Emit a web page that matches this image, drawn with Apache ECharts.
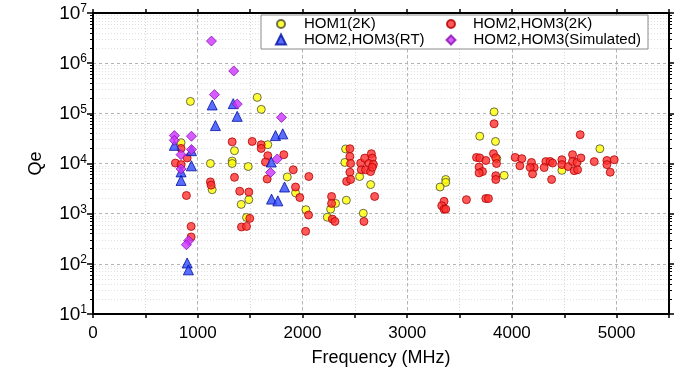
<!DOCTYPE html>
<html>
<head>
<meta charset="utf-8">
<script src="https://cdn.jsdelivr.net/npm/echarts@6/dist/echarts.min.js"></script>
<style>
  html, body { margin: 0; padding: 0; background: #fff; }
  #chart { width: 679px; height: 369px; }
</style>
</head>
<body>
<div id="chart"></div>
<script>
// Measured external Q (Qe) of HOM1 / HOM2,HOM3 modes versus mode frequency in MHz.
const hom1_2K = [
  [930,1.73e5],[1568,2.08e5],[1607,1.2e5],[841,2.6e4],[1669,2.37e4],[1351,1.8e4],
  [1121,1.0e4],[1329,1.12e4],[1329,1.0e4],[1482,8.7e3],[1855,5.4e3],[1138,3.0e3],
  [1934,2.6e3],[1488,1.9e3],[1415,1.53e3],[1466,840],[2033,1.2e3],[2237,850],
  [2269,1.23e3],[2316,1.6e3],[2412,1.95e4],[2405,1.05e4],[2546,5.5e3],[2651,3.8e3],
  [2419,1.85e3],[2581,1.02e3],[3830,1.07e5],[3693,3.5e4],[3843,2.75e4],[3856,1.25e4],
  [3926,5.8e3],[3368,4.8e3],[3368,4.2e3],[3314,3.4e3],[4840,1.97e4],[4477,7.3e3]
];
const hom23_2K = [
  [841,2.0e4],[899,1.29e4],[787,1.02e4],[841,9.5e3],[892,2.3e3],[937,557],[937,343],
  [1329,2.7e4],[1520,2.75e4],[1606,2.37e4],[1606,2.0e4],[1669,1.43e4],[1822,1.5e4],
  [1647,1.07e4],[1912,7.5e3],[1351,5.3e3],[1663,4.9e3],[1121,4.3e3],[1128,3.7e3],
  [1934,3.4e3],[1975,2.1e3],[1401,2.8e3],[1488,2.7e3],[1497,805],[1418,543],[1466,557],
  [2058,940],[2030,444],[2061,5.5e3],
  [2278,2.2e3],[2278,1.6e3],[2285,780],[2310,700],[2453,1.97e4],[2453,1.38e4],
  [2460,1.0e4],[2453,6.7e3],[2422,4.4e3],[2460,4.8e3],[2556,1.02e4],[2594,1.28e4],
  [2658,1.57e4],[2667,1.28e4],[2635,1.0e4],[2677,9.6e3],[2562,7.5e3],[2603,7.5e3],
  [2651,6.9e3],[2667,8.4e3],[2689,2.2e3],[2587,700],
  [3352,1.76e3],[3330,1.44e3],[3352,1.23e3],[3368,1.23e3],[3566,1.9e3],[3751,2.0e3],
  [3776,2.0e3],[3830,6.2e4],[3824,1.57e4],[3845,1.3e4],[3662,1.32e4],[3693,1.29e4],
  [3751,1.15e4],[3853,1.0e4],[3687,8.5e3],[3719,6.9e3],[3687,6.5e3],[3846,5.7e3],
  [3846,4.8e3],
  [4031,1.32e4],[4095,1.25e4],[4076,9e3],[4187,1.05e4],[4213,8.3e3],[4175,8.3e3],
  [4197,6.2e3],[4652,3.75e4],[4324,1.09e4],[4365,1.1e4],[4388,1.02e4],[4308,8.3e3],
  [4379,4.8e3],[4477,1.19e4],[4477,9.5e3],[4537,8.7e3],[4579,1.5e4],[4579,1.1e4],
  [4595,7.2e3],[4621,1.05e4],[4627,7.5e3],[4659,1.29e4],[4786,1.09e4],[4907,1.15e4],
  [4907,9.5e3],[4977,1.19e4],[4939,6.7e3]
];
const hom23_RT = [
  [1138,1.47e5],[1339,1.56e5],[1377,8.7e4],[1169,5.7e4],[1743,3.6e4],[1812,3.9e4],
  [777,2.3e4],[940,1.8e4],[940,9e3],[841,6.8e3],[841,4.6e3],[1702,1.07e4],[1829,3.4e3],
  [1705,1.95e3],[1765,1.8e3],[899,104],[911,76]
];
const hom23_Sim = [
  [1131,2.76e6],[1344,7e5],[1160,2.36e5],[1377,1.53e5],[1800,8.3e4],[777,3.6e4],
  [940,3.5e4],[777,2.9e4],[940,1.9e4],[841,1.5e4],[841,7.8e3],[1759,1.23e4],
  [1695,6.6e3],[914,290],[892,240]
];
const seriesNames = ['HOM1(2K)', 'HOM2,HOM3(2K)', 'HOM2,HOM3(RT)', 'HOM2,HOM3(Simulated)'];
const xTicks = [0, 1000, 2000, 3000, 4000, 5000];

const FONT = '"Liberation Sans", Arial, sans-serif';
const chart = echarts.init(document.getElementById('chart'), null, { renderer: 'canvas' });

const grid = { left: 93, top: 13, width: 576, height: 301, containLabel: false, outerBoundsMode: 'none' };

function legendAt(name, left, top, size, pad, icon) {
  return {
    data: [{ name: name, icon: icon }],
    left: left, top: top, orient: 'horizontal',
    itemWidth: size, itemHeight: size, padding: 0,
    textStyle: { fontFamily: FONT, fontSize: 15, color: '#000', padding: [0, 0, 0, pad], lineHeight: 16 },
    selectedMode: false, z: 10
  };
}

const option = {
  animation: false,
  backgroundColor: '#fff',
  grid: grid,
  graphic: [{
    type: 'rect', z: 5,
    shape: { x: 261, y: 15, width: 387, height: 34 },
    style: { fill: '#fff', stroke: '#8a8a8a', lineWidth: 1 }
  }],
  legend: [
    legendAt(seriesNames[0], 276, 16, 8, 14, 'circle'),
    legendAt(seriesNames[2], 275, 31.5, 10, 13, 'triangle'),
    legendAt(seriesNames[1], 446, 16, 8, 13, 'circle'),
    legendAt(seriesNames[3], 445.5, 32, 9, 13, 'diamond')
  ],
  xAxis: [
    { // bottom axis: ticks every 500, labels every 1000, dotted half-step grid
      type: 'value', position: 'bottom', min: 0, max: 5500, interval: 500,
      axisLine: { show: true, onZero: false, lineStyle: { color: '#000', width: 2 } },
      axisTick: { show: true, inside: false, length: 4, lineStyle: { color: '#000', width: 1.5 } },
      axisLabel: {
        fontFamily: FONT, fontSize: 17, color: '#000', margin: 11,
        formatter: v => (xTicks.indexOf(v) >= 0 ? String(v) : '')
      },
      splitLine: { show: true, lineStyle: { color: '#d8d8d8', type: [1, 2], width: 1 } },
      name: 'Frequency (MHz)', nameLocation: 'middle', nameGap: 35,
      nameTextStyle: { fontFamily: FONT, fontSize: 18, color: '#000' }
    },
    { // top mirror axis
      type: 'value', position: 'top', min: 0, max: 5500, interval: 500,
      axisLine: { show: true, onZero: false, lineStyle: { color: '#000', width: 2 } },
      axisTick: { show: true, inside: false, length: 4, lineStyle: { color: '#000', width: 1.5 } },
      axisLabel: { show: false }, splitLine: { show: false }
    },
    { // major vertical grid every 1000
      type: 'value', position: 'bottom', min: 0, max: 5500, interval: 1000,
      axisLine: { show: false }, axisTick: { show: false }, axisLabel: { show: false },
      splitLine: { show: true, lineStyle: { color: '#b4b4b4', type: [3, 3], width: 1 } }
    }
  ],
  yAxis: [
    {
      type: 'log', logBase: 10, min: 10, max: 1e7, position: 'left',
      axisLine: { show: true, onZero: false, lineStyle: { color: '#000', width: 2 } },
      axisTick: { show: true, inside: false, length: 6, lineStyle: { color: '#000', width: 1.5 } },
      minorTick: { show: true, splitNumber: 9, length: 3, lineStyle: { color: '#000', width: 1 } },
      minorSplitLine: { show: true, lineStyle: { color: '#e2e2e2', type: [1, 2], width: 1 } },
      splitLine: { show: true, lineStyle: { color: '#b4b4b4', type: [3, 3], width: 1 } },
      axisLabel: {
        margin: 6, color: '#000',
        formatter: v => '{b|10}{s|' + Math.round(Math.log10(v)) + '}',
        rich: {
          b: { fontFamily: FONT, fontSize: 19, color: '#000', lineHeight: 20, verticalAlign: 'bottom' },
          s: { fontFamily: FONT, fontSize: 12, color: '#000', lineHeight: 14, verticalAlign: 'top' }
        }
      },
      name: 'Qe', nameLocation: 'middle', nameGap: 48, nameRotate: 90,
      nameTextStyle: { fontFamily: FONT, fontSize: 18, color: '#000' }
    },
    {
      type: 'log', logBase: 10, min: 10, max: 1e7, position: 'right',
      axisLine: { show: true, onZero: false, lineStyle: { color: '#000', width: 2 } },
      axisTick: { show: true, inside: false, length: 5, lineStyle: { color: '#000', width: 1.5 } },
      minorTick: { show: true, splitNumber: 9, length: 3, lineStyle: { color: '#000', width: 1 } },
      axisLabel: { show: false }, splitLine: { show: false }
    }
  ],
  series: [
    {
      name: seriesNames[0], type: 'scatter', data: hom1_2K, symbol: 'circle', symbolSize: 8,
      itemStyle: { color: '#ffff00', borderColor: '#4a4a3a', borderWidth: 1 }, z: 2
    },
    {
      name: seriesNames[1], type: 'scatter', data: hom23_2K, symbol: 'circle', symbolSize: 8,
      itemStyle: { color: '#ff3030', borderColor: '#b00000', borderWidth: 1 }, z: 3
    },
    {
      name: seriesNames[2], type: 'scatter', data: hom23_RT, symbol: 'triangle', symbolSize: 10,
      itemStyle: { color: '#3048ff', borderColor: '#0010a0', borderWidth: 1 }, z: 4
    },
    {
      name: seriesNames[3], type: 'scatter', data: hom23_Sim, symbol: 'diamond', symbolSize: 10,
      itemStyle: { color: '#cc33ff', borderColor: '#8a10b0', borderWidth: 1 }, z: 5
    }
  ]
};
chart.setOption(option);
</script>
</body>
</html>
